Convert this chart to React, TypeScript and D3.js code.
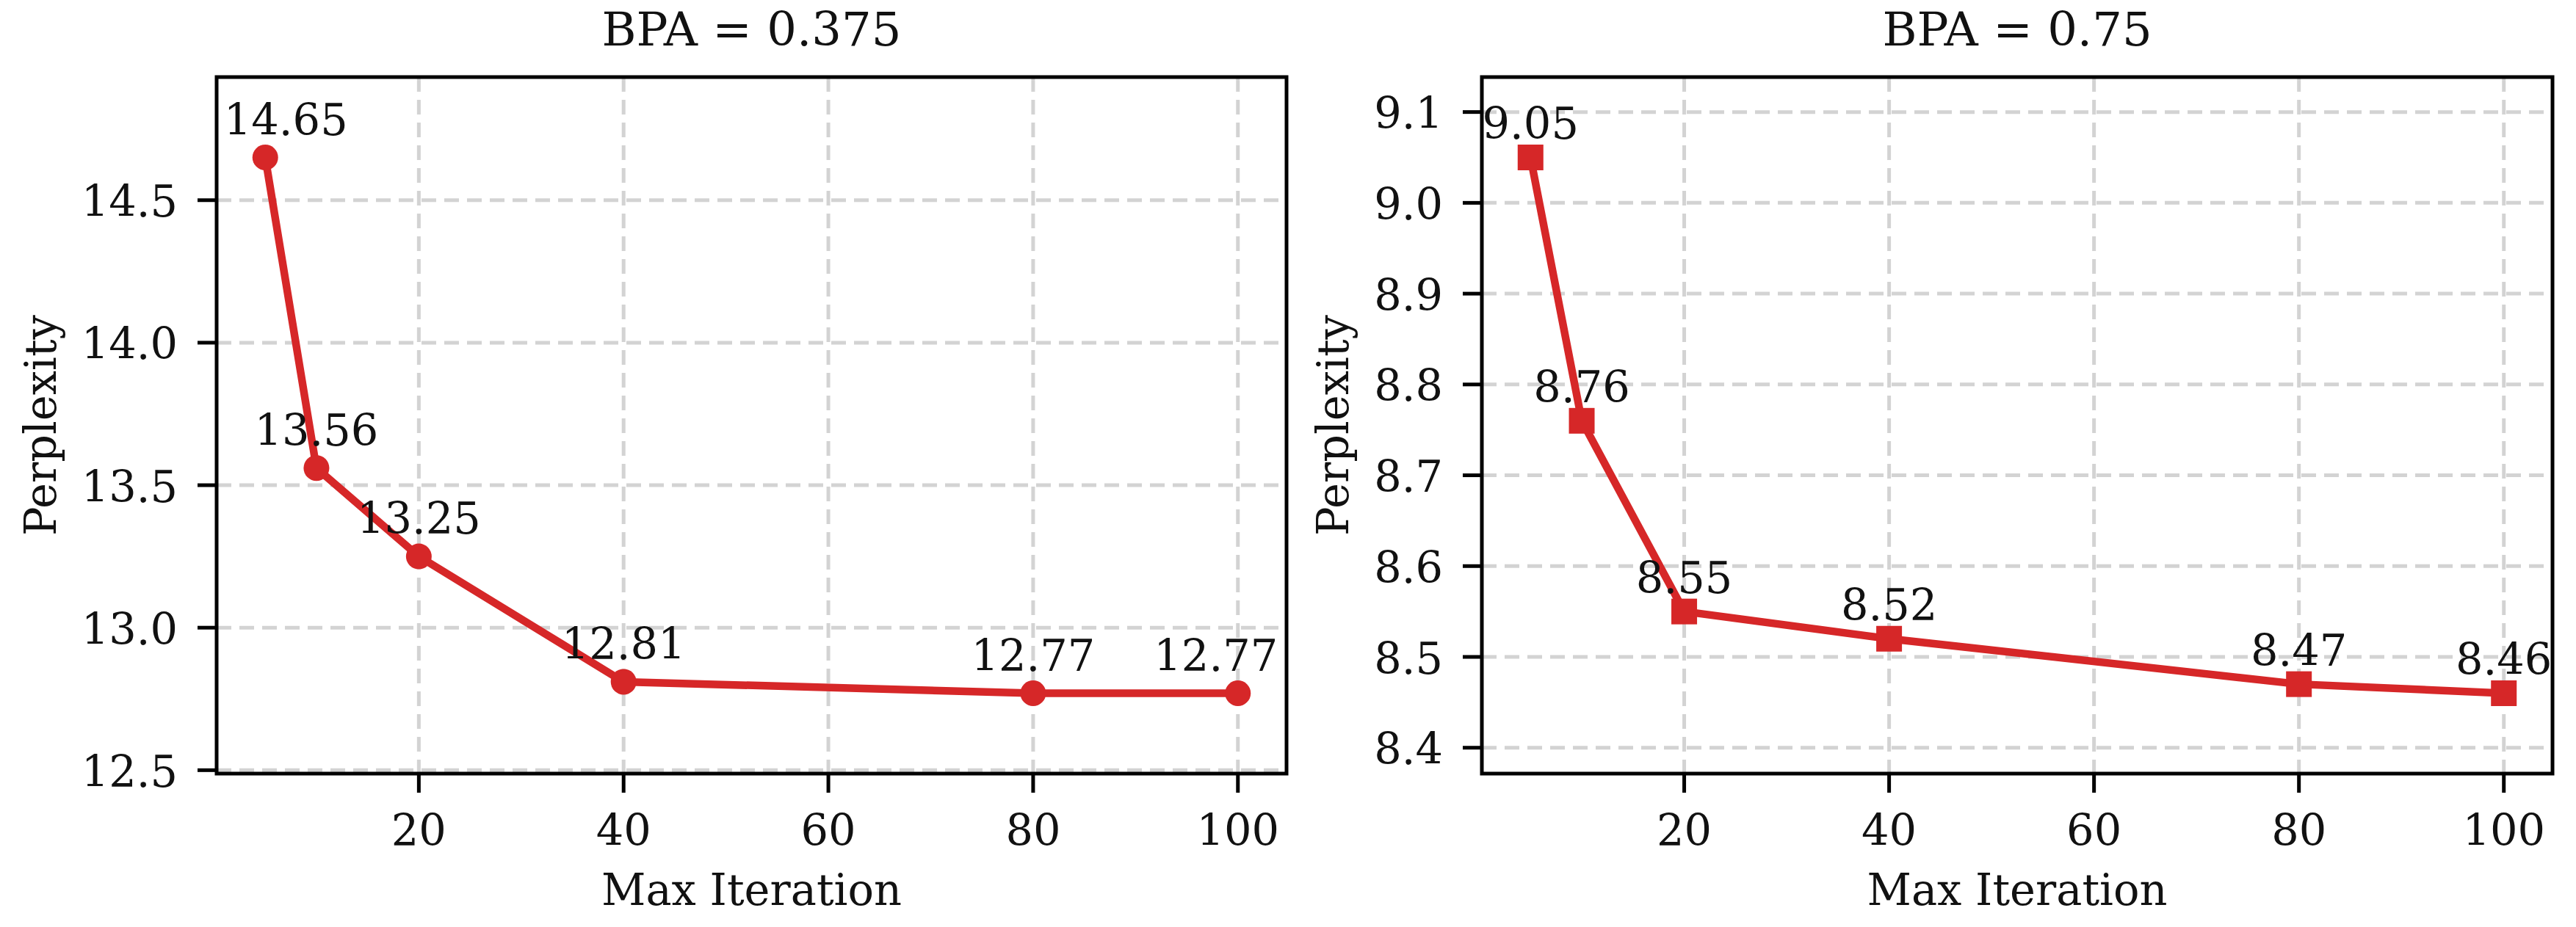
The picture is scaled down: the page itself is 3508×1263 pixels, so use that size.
import React from "react";
import * as d3 from "d3";

const maxIterations = [5, 10, 20, 40, 80, 100];
const perplexityBpa0375 = [14.65, 13.56, 13.25, 12.81, 12.77, 12.77];
const perplexityBpa075 = [9.05, 8.76, 8.55, 8.52, 8.47, 8.46];
const xTickValues = [20, 40, 60, 80, 100];
const yTicksBpa0375 = [12.5, 13.0, 13.5, 14.0, 14.5];
const yTicksBpa075 = [8.4, 8.5, 8.6, 8.7, 8.8, 8.9, 9.0, 9.1];
const titles = ["BPA = 0.375", "BPA = 0.75"];
const xLabel = "Max Iteration";
const yLabel = "Perplexity";

const W = 3508;
const H = 1263;
const RED = "#d62728";
const FONT = "'DejaVu Serif', serif";
const TICK_FS = 59;
const ANN_FS = 59;
const LABEL_FS = 59;
const TITLE_FS = 64;

type PanelCfg = {
  x0: number;
  x1: number;
  y0: number;
  y1: number;
  values: number[];
  yTicks: number[];
  title: string;
  marker: "circle" | "square";
  annDy: number;
  annDx: number[];
  yLabelX: number;
};

const textBase = { fontFamily: FONT, fill: "#111" };

function Panel({ cfg }: { cfg: PanelCfg }) {
  const { x0, x1, y0, y1, values } = cfg;
  const xMin = d3.min(maxIterations)!;
  const xMax = d3.max(maxIterations)!;
  const xPad = (xMax - xMin) * 0.05;
  const x = d3.scaleLinear().domain([xMin - xPad, xMax + xPad]).range([x0, x1]);
  const yMin = d3.min(values)!;
  const yMax = d3.max(values)!;
  const yPad = (yMax - yMin) * 0.15;
  const y = d3.scaleLinear().domain([yMin - yPad, yMax + yPad]).range([y1, y0]);
  const line = d3
    .line<number>()
    .x((_, i) => x(maxIterations[i]))
    .y((v) => y(v));
  const yFmt = d3.format(".1f");
  const cx = (x0 + x1) / 2;
  const cy = (y0 + y1) / 2;
  const gridStyle = { stroke: "#d3d3d3", strokeWidth: 5, strokeDasharray: "20 11" };
  const ms = 35;
  return (
    <g>
      {xTickValues.map((t) => (
        <line key={"gx" + t} x1={x(t)} x2={x(t)} y1={y0} y2={y1} {...gridStyle} />
      ))}
      {cfg.yTicks.map((t) => (
        <line key={"gy" + t} x1={x0} x2={x1} y1={y(t)} y2={y(t)} {...gridStyle} />
      ))}
      <path d={line(values) || ""} fill="none" stroke={RED} strokeWidth={10.5} strokeLinejoin="round" />
      {values.map((v, i) =>
        cfg.marker === "circle" ? (
          <circle key={"m" + i} cx={x(maxIterations[i])} cy={y(v)} r={ms / 2} fill={RED} />
        ) : (
          <rect key={"m" + i} x={x(maxIterations[i]) - ms / 2} y={y(v) - ms / 2} width={ms} height={ms} fill={RED} />
        )
      )}
      {values.map((v, i) => (
        <text
          key={"a" + i}
          x={x(maxIterations[i]) + cfg.annDx[i]}
          y={y(v) - cfg.annDy}
          textAnchor="middle"
          fontSize={ANN_FS}
          {...textBase}
        >
          {v.toFixed(2)}
        </text>
      ))}
      <rect x={x0} y={y0} width={x1 - x0} height={y1 - y0} fill="none" stroke="#000" strokeWidth={5} />
      {xTickValues.map((t) => (
        <g key={"tx" + t}>
          <line x1={x(t)} x2={x(t)} y1={y1} y2={y1 + 26} stroke="#000" strokeWidth={5} />
          <text x={x(t)} y={y1 + 98} textAnchor="middle" fontSize={TICK_FS} {...textBase}>
            {t}
          </text>
        </g>
      ))}
      {cfg.yTicks.map((t) => (
        <g key={"ty" + t}>
          <line x1={x0 - 26} x2={x0} y1={y(t)} y2={y(t)} stroke="#000" strokeWidth={5} />
          <text x={x0 - 53} y={y(t) + 22.5} textAnchor="end" fontSize={TICK_FS} {...textBase}>
            {yFmt(t)}
          </text>
        </g>
      ))}
      <text x={cx} y={62} textAnchor="middle" fontSize={TITLE_FS} {...textBase}>
        {cfg.title}
      </text>
      <text x={cx} y={1233} textAnchor="middle" fontSize={LABEL_FS} {...textBase}>
        {xLabel}
      </text>
      <text
        transform={`translate(${cfg.yLabelX},${cy}) rotate(-90)`}
        textAnchor="middle"
        fontSize={LABEL_FS}
        {...textBase}
      >
        {yLabel}
      </text>
    </g>
  );
}

export default function App() {
  const panels: PanelCfg[] = [
    {
      x0: 295,
      x1: 1752,
      y0: 105,
      y1: 1054,
      values: perplexityBpa0375,
      yTicks: yTicksBpa0375,
      title: titles[0],
      marker: "circle",
      annDy: 31,
      annDx: [28, 0, 0, 0, 0, -30],
      yLabelX: 76,
    },
    {
      x0: 2018,
      x1: 3476,
      y0: 105,
      y1: 1054,
      values: perplexityBpa075,
      yTicks: yTicksBpa075,
      title: titles[1],
      marker: "square",
      annDy: 25.5,
      annDx: [0, 0, 0, 0, 0, 0],
      yLabelX: 1836,
    },
  ];
  return (
    <svg
      width={W}
      height={H}
      viewBox={`0 0 ${W} ${H}`}
      style={{ position: "absolute", left: 0, top: 0, background: "#fff" }}
    >
      <rect x={0} y={0} width={W} height={H} fill="#fff" />
      {panels.map((p, i) => (
        <Panel key={i} cfg={p} />
      ))}
    </svg>
  );
}
